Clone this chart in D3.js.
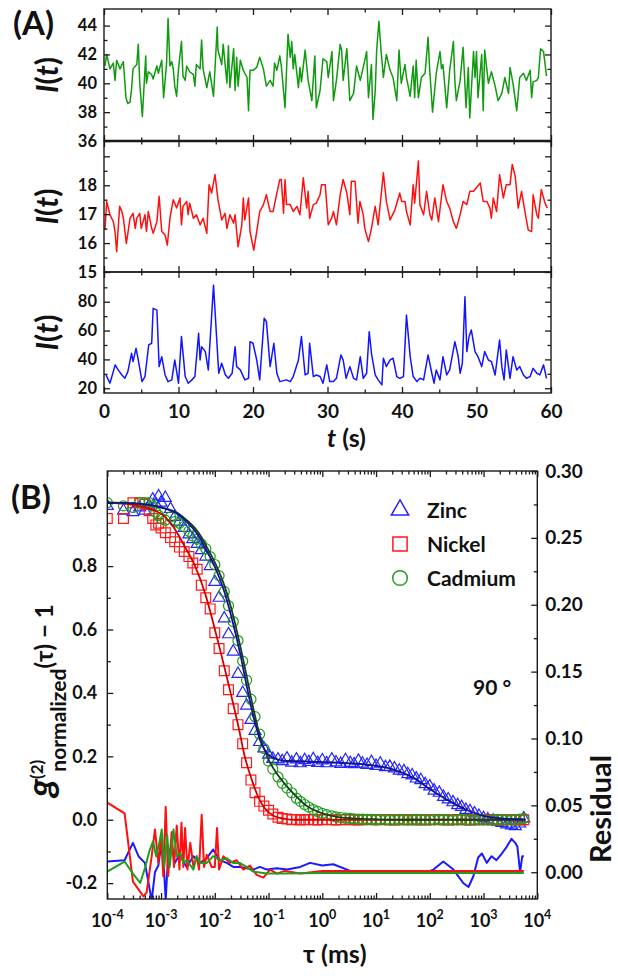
<!DOCTYPE html>
<html>
<head>
<meta charset="utf-8">
<script src="https://cdnjs.cloudflare.com/ajax/libs/d3/7.8.5/d3.min.js"></script>
<style>
  body { margin: 0; background: #fff; }
  svg text { font-family: Lato, "Open Sans", sans-serif; font-weight: bold; fill: #111; }
</style>
</head>
<body>
<div id="chart"></div>
<script>
// Global const
const W = 618, H = 980;
const ink = "#1a1a1a";

// ---------- Panel A data: intensity traces, [t (s), I(t)] ----------
const greenTrace = [
  [0.13,41.2],[0.36,42.0],[0.8,41.0],[1.25,41.4],[1.48,40.2],[1.7,41.6],[2.15,41.0],[2.6,41.5],[2.95,39.0],[3.2,38.6],
  [3.5,38.7],[3.7,39.6],[3.9,41.0],[4.4,41.3],[4.6,42.7],[4.8,40.0],[5.15,37.7],[5.6,41.9],[5.7,40.0],[5.95,40.8],
  [6.4,40.6],[6.6,40.3],[7.1,41.2],[7.3,40.7],[7.75,41.6],[8.0,39.0],[8.4,41.4],[8.6,44.5],[8.85,41.2],[9.1,41.5],
  [9.3,41.0],[9.5,39.8],[9.75,39.1],[10.0,41.0],[10.4,42.9],[10.6,40.5],[10.9,40.2],[11.1,41.2],[11.5,40.8],[12.0,40.6],
  [12.2,39.8],[12.4,41.3],[12.9,41.0],[13.1,43.0],[13.3,41.0],[13.8,39.7],[14.2,40.8],[14.7,39.1],[15.2,43.9],[15.3,42.3],
  [15.8,41.3],[16.0,42.7],[16.5,40.0],[16.7,42.6],[16.9,39.7],[17.4,42.4],[17.6,39.5],[17.8,41.8],[18.0,39.8],[18.3,41.6],
  [18.7,40.9],[19.2,40.4],[19.4,38.1],[19.6,40.9],[20.0,40.9],[20.5,41.1],[20.9,41.8],[21.4,41.0],[21.8,39.8],[22.3,40.2],
  [22.7,39.8],[22.9,41.4],[23.2,40.9],[23.6,41.9],[23.8,41.2],[24.3,38.3],[24.7,43.4],[25.0,41.8],[25.2,42.9],[25.4,41.0],
  [25.6,42.0],[26.1,39.7],[26.3,41.1],[26.5,40.1],[27.0,42.3],[27.4,40.2],[27.9,38.8],[28.3,41.9],[28.5,38.3],[29.0,39.5],
  [29.4,41.7],[29.9,41.5],[30.1,40.4],[30.6,42.2],[30.8,38.8],[31.2,40.2],[31.7,42.7],[31.9,42.3],[32.1,40.2],[32.6,42.4],
  [33.0,38.8],[33.5,39.3],[33.9,41.2],[34.4,40.2],[34.8,41.1],[35.25,42.2],[35.5,39.0],[35.9,41.3],[36.1,37.5],[36.4,39.4],
  [36.6,42.3],[36.9,44.3],[37.2,42.2],[37.5,40.4],[37.9,42.0],[38.4,40.9],[38.8,40.4],[39.3,38.8],[39.6,42.3],[39.9,40.0],
  [40.4,41.3],[40.6,40.4],[41.1,39.1],[41.5,41.2],[41.7,39.0],[41.9,41.6],[42.2,39.0],[42.6,40.4],[43.1,40.7],[43.5,43.2],
  [43.7,41.1],[44.1,38.0],[44.6,40.7],[45.1,42.2],[45.3,41.0],[45.5,41.3],[46.0,38.3],[46.4,40.9],[46.9,42.9],[47.1,40.1],
  [47.3,38.8],[47.8,40.2],[48.2,42.5],[48.6,38.3],[48.9,41.1],[49.1,37.6],[49.6,42.2],[49.8,40.4],[50.0,42.2],[50.2,39.0],
  [50.7,42.0],[50.9,38.1],[51.1,42.3],[51.6,40.0],[52.0,40.8],[52.5,39.8],[52.9,38.8],[53.4,39.3],[53.8,40.4],[54.3,39.3],
  [54.5,41.1],[54.9,40.0],[55.4,38.1],[55.8,40.4],[56.3,40.7],[56.7,40.2],[57.2,40.9],[57.4,39.0],[57.6,40.1],[58.1,40.2],
  [58.3,40.4],[58.6,42.4],[59.0,42.2],[59.4,40.5]
];
const redTrace = [
  [0.13,16.45],[0.36,17.44],[0.8,16.98],[1.25,16.74],[1.48,16.4],[1.7,15.7],[2.1,17.27],[2.4,17.09],[2.6,16.86],[3.0,15.99],
  [3.3,16.51],[3.5,16.86],[3.9,17.03],[4.2,16.51],[4.4,16.86],[4.8,17.03],[5.0,16.51],[5.5,16.98],[5.7,16.4],[5.95,17.09],
  [6.4,16.51],[6.6,16.34],[7.1,16.74],[7.4,17.62],[7.75,16.4],[8.2,16.28],[8.5,15.93],[8.85,16.86],[9.3,17.5],[9.75,17.21],
  [10.2,17.56],[10.4,16.63],[10.6,17.27],[11.1,17.44],[11.3,16.98],[11.5,17.38],[12.0,16.86],[12.4,16.98],[12.9,16.63],[13.3,16.86],
  [13.8,16.34],[14.1,18.02],[14.45,17.73],[14.9,18.37],[15.3,17.5],[15.8,16.8],[16.25,17.03],[16.5,16.51],[16.9,16.98],[17.4,16.69],
  [17.6,16.98],[18.0,15.87],[18.5,16.63],[18.7,17.56],[18.9,16.8],[19.4,17.56],[19.6,16.4],[20.1,15.76],[20.5,16.4],[20.9,17.09],
  [21.4,17.33],[21.8,17.67],[22.3,17.09],[22.7,17.09],[23.2,17.73],[23.6,18.2],[23.8,18.2],[24.1,17.03],[24.3,18.2],[24.5,17.33],
  [25.0,17.33],[25.4,17.09],[25.9,17.27],[26.3,16.98],[26.75,18.26],[27.2,17.21],[27.4,17.79],[27.6,16.86],[28.1,17.33],[28.5,17.38],
  [29.0,17.67],[29.2,18.02],[29.7,18.02],[30.1,16.63],[30.55,16.86],[30.8,17.09],[31.2,16.63],[31.7,17.67],[32.1,18.2],[32.6,17.73],
  [33.0,16.98],[33.2,18.14],[33.7,18.14],[34.1,16.69],[34.35,17.44],[34.8,16.98],[35.0,16.51],[35.5,16.05],[35.9,16.51],[36.4,17.27],
  [36.8,16.63],[37.5,18.43],[37.9,17.44],[38.4,16.8],[39.05,17.15],[39.7,17.73],[39.95,17.44],[40.4,17.44],[40.6,17.09],[41.1,16.63],
  [41.5,18.02],[41.7,17.38],[42.2,18.84],[42.4,17.33],[42.9,16.98],[43.3,17.79],[43.75,16.98],[44.0,16.8],[44.4,17.56],[44.9,16.74],
  [45.5,18.02],[46.0,17.44],[46.4,17.21],[46.9,16.74],[47.3,16.51],[47.8,16.98],[48.2,17.44],[48.7,17.33],[49.1,17.79],[49.6,17.79],
  [49.8,17.85],[50.5,18.08],[50.9,17.44],[51.4,17.44],[51.8,17.21],[52.0,16.86],[52.25,17.56],[52.7,17.09],[53.1,18.37],[53.6,17.56],
  [54.0,18.02],[54.5,18.02],[54.8,18.72],[55.2,18.31],[55.6,17.21],[56.05,17.79],[56.5,17.09],[56.95,16.45],[57.4,16.4],[57.6,17.67],
  [58.1,16.98],[58.3,16.86],[58.7,17.85],[59.2,17.38],[59.5,17.21]
];
const blueTrace = [
  [0.27,29.2],[0.8,23.5],[1.5,36.2],[1.9,32.7],[2.4,29.2],[2.8,26.9],[3.2,31.5],[3.7,44.2],[3.9,38.5],[4.3,47.7],
  [4.6,39.6],[5.1,24.6],[5.5,28.1],[6.0,50.0],[6.4,51.2],[6.6,75.4],[7.1,74.2],[7.4,35.0],[7.75,41.9],[8.2,29.2],
  [8.6,24.6],[9.1,25.8],[9.5,39.6],[10.0,23.5],[10.4,55.8],[10.9,28.1],[11.3,23.5],[11.8,25.8],[12.2,28.1],[12.7,58.1],
  [12.9,39.6],[13.1,48.8],[13.6,45.4],[14.0,32.7],[14.7,91.5],[15.4,30.4],[15.8,37.3],[16.3,29.2],[16.7,26.9],[17.2,30.4],
  [17.6,48.8],[17.8,35.0],[18.3,32.7],[18.9,25.8],[19.4,26.9],[19.6,52.3],[20.0,51.2],[20.5,39.6],[20.9,25.8],[21.5,68.5],
  [21.8,66.2],[22.3,35.0],[22.8,51.2],[23.2,30.4],[23.6,24.6],[24.5,25.8],[25.0,24.6],[25.4,28.1],[26.1,39.6],[26.5,55.8],
  [27.0,29.2],[27.4,30.4],[27.6,51.2],[28.1,28.1],[28.5,29.2],[29.0,28.1],[29.4,23.5],[29.9,36.2],[30.3,24.6],[30.8,24.6],
  [31.2,26.9],[31.8,43.1],[32.1,39.6],[32.5,26.9],[33.0,35.0],[33.5,26.9],[33.9,25.8],[34.4,41.9],[34.8,26.9],[35.25,30.4],
  [35.6,59.2],[35.9,44.2],[36.4,29.2],[36.8,25.8],[37.3,22.3],[37.5,40.8],[37.9,35.0],[38.4,39.6],[38.8,40.8],[39.3,28.1],
  [39.7,26.9],[40.2,28.1],[40.6,70.8],[41.1,41.9],[41.5,28.1],[42.0,24.6],[42.4,26.9],[42.9,25.8],[43.5,43.1],[44.0,30.4],
  [44.3,23.5],[44.6,32.7],[45.1,25.8],[45.5,41.9],[46.0,29.2],[46.4,32.7],[47.1,52.3],[47.55,41.9],[47.8,30.4],[48.1,37.3],
  [48.45,83.5],[48.7,45.4],[49.0,55.8],[49.3,60.4],[49.8,45.4],[50.2,41.9],[50.7,35.0],[51.1,45.4],[51.6,39.6],[52.0,38.5],
  [52.5,29.2],[53.1,53.5],[53.4,35.0],[53.7,25.8],[54.0,46.5],[54.5,26.9],[54.9,41.9],[55.4,32.7],[55.8,35.0],[56.3,29.2],
  [56.7,26.9],[57.2,28.1],[57.6,33.8],[58.1,30.4],[58.5,29.2],[59.0,36.2],[59.4,26.9]
];
const greenTicks = [36, 38, 40, 42, 44];
const redTicks = [15, 16, 17, 18];
const blueTicks = [20, 40, 60, 80];
const timeTicks = [0, 10, 20, 30, 40, 50, 60];

// ---------- Panel B data: normalized g2(tau) - 1 ----------
const tauGrid = [
  1e-4, 2e-4, 3e-4, 4e-4, 5e-4, 6e-4, 7e-4, 8e-4, 9e-4,
  1e-3, 1.2e-3, 1.5e-3, 1.8e-3, 2.2e-3, 2.7e-3, 3.3e-3, 3.9e-3, 4.7e-3, 5.6e-3, 6.8e-3, 8.2e-3,
  1e-2, 1.2e-2, 1.5e-2, 1.8e-2, 2.2e-2, 2.7e-2, 3.3e-2, 3.9e-2, 4.7e-2, 5.6e-2, 6.8e-2, 8.2e-2,
  0.1, 0.12, 0.15, 0.18, 0.22, 0.27, 0.33, 0.39, 0.47, 0.56, 0.68, 0.82,
  1, 1.2, 1.5, 1.8, 2.2, 2.7, 3.3, 3.9, 4.7, 5.6, 6.8, 8.2,
  10, 12, 15, 18, 22, 27, 33, 39, 47, 56, 68, 82,
  100, 120, 150, 180, 220, 270, 330, 390, 470, 560, 680, 820,
  1000, 1200, 1500, 1800, 2200, 2700, 3300, 3900, 4700, 5600
];
const zincG2 = [
  0.99, 0.975, 0.97, 0.985, 0.975, 0.99, 1.01, 0.995, 1.02,
  1.0, 1.015, 0.98, 0.955, 0.94, 0.92, 0.9, 0.885, 0.87, 0.85, 0.83, 0.8,
  0.75, 0.70, 0.635, 0.585, 0.53, 0.46, 0.40, 0.36, 0.315, 0.28, 0.245, 0.225,
  0.205, 0.192, 0.19, 0.185, 0.193, 0.18, 0.19, 0.178, 0.188, 0.182, 0.191, 0.179,
  0.187, 0.178, 0.19, 0.181, 0.176, 0.188, 0.179, 0.175, 0.186, 0.177, 0.173, 0.182,
  0.17, 0.177, 0.166, 0.167, 0.162, 0.155, 0.153, 0.144, 0.14, 0.13, 0.125, 0.112,
  0.105, 0.092, 0.085, 0.072, 0.064, 0.055, 0.046, 0.04, 0.031, 0.027, 0.02, 0.012,
  0.005, 0.001, -0.003, -0.006, -0.01, -0.015, -0.018, -0.02, -0.012, 0.004
];
const nickelG2 = [
  0.95, 0.95, 1.0, 1.0, 0.995, 0.975, 0.95, 0.93, 0.935,
  0.92, 0.905, 0.89, 0.877, 0.86, 0.846, 0.83, 0.81, 0.79, 0.74, 0.70, 0.665,
  0.59, 0.54, 0.47, 0.41, 0.35, 0.30, 0.24, 0.18, 0.125, 0.085, 0.058, 0.043,
  0.03, 0.018, 0.008, 0.004, 0.002, 0.0, 0.001, -0.001, 0.0, 0.001, 0.0, -0.001,
  0.0, 0.001, 0.0, -0.001, 0.0, 0.001, 0.0, 0.0, -0.001, 0.0, 0.001, 0.0,
  0.0, 0.0, 0.001, 0.0, -0.001, 0.0, 0.0, 0.001, 0.0, 0.0, -0.001, 0.0,
  0.0, 0.001, 0.0, 0.0, -0.001, 0.0, 0.001, 0.0, 0.0, -0.001, 0.0, 0.0,
  0.0, 0.001, 0.0, -0.001, 0.0, 0.0, 0.001, 0.0, -0.001, 0.0
];
const cadmiumG2 = [
  1.0, 0.99, 0.985, 1.0, 1.0, 1.0, 0.99, 0.97, 0.96,
  0.95, 0.945, 0.955, 0.94, 0.935, 0.925, 0.91, 0.895, 0.885, 0.87, 0.855, 0.83,
  0.805, 0.77, 0.72, 0.675, 0.625, 0.565, 0.50, 0.44, 0.38, 0.325, 0.27, 0.225,
  0.185, 0.16, 0.135, 0.115, 0.10, 0.085, 0.068, 0.058, 0.048, 0.04, 0.032, 0.026,
  0.02, 0.016, 0.012, 0.009, 0.007, 0.005, 0.004, 0.003, 0.002, 0.002, 0.001, 0.001,
  0.0, 0.001, 0.0, -0.001, 0.0, 0.001, 0.0, -0.001, 0.0, 0.001, 0.0, 0.0,
  -0.001, 0.0, 0.001, 0.0, 0.0, -0.001, 0.0, 0.001, 0.0, -0.001, 0.0, 0.001,
  0.0, -0.001, 0.0, 0.001, 0.0, 0.0, -0.001, 0.0, 0.002, 0.004
];
// fitted curves, [tau (ms), value]
const zincFit = [[1e-4,1.0],[3e-4,0.998],[1e-3,0.985],[2e-3,0.965],[3e-3,0.94],[5e-3,0.895],[7e-3,0.85],[1e-2,0.798],
  [1.5e-2,0.72],[2e-2,0.645],[3e-2,0.52],[4e-2,0.415],[5e-2,0.34],[7e-2,0.25],[0.1,0.205],[0.15,0.19],[0.2,0.186],
  [0.3,0.185],[0.5,0.184],[1,0.182],[2,0.18],[5,0.176],[10,0.17],[20,0.16],[50,0.132],[100,0.097],[200,0.065],
  [500,0.03],[1000,0.012],[2000,0.004],[6000,0.001]];
const nickelFit = [[1e-4,1.0],[3e-4,0.993],[1e-3,0.965],[1.6e-3,0.93],[2.8e-3,0.86],[4.3e-3,0.8],[6.6e-3,0.714],
  [8.7e-3,0.641],[1.17e-2,0.557],[1.55e-2,0.473],[2.04e-2,0.389],[2.75e-2,0.294],[3.6e-2,0.2],[4.9e-2,0.125],
  [6.5e-2,0.07],[8.5e-2,0.036],[0.126,0.012],[0.2,0.003],[0.32,0],[1,0],[100,0],[6000,0]];
const cadmiumFit = [[1e-4,1.0],[3e-4,0.998],[1e-3,0.985],[2e-3,0.968],[3e-3,0.945],[5e-3,0.905],[7e-3,0.862],
  [1e-2,0.812],[1.5e-2,0.74],[2e-2,0.67],[3e-2,0.545],[4e-2,0.445],[5e-2,0.365],[7e-2,0.26],[0.1,0.19],[0.15,0.14],
  [0.2,0.113],[0.3,0.08],[0.5,0.045],[1,0.02],[2,0.008],[5,0.003],[10,0.001],[20,0],[100,0],[1000,0],[6000,0]];
// fit residuals (right axis), [tau (ms), residual]
const zincResid = [[1e-4,0.008],[2.1e-4,0.009],[3e-4,0.022],[3.8e-4,0.012],[5e-4,0.007],[6.7e-4,-0.021],[7.7e-4,0.0],
  [8.9e-4,0.005],[1e-3,0.020],[1.1e-3,0.012],[1.22e-3,-0.021],[1.35e-3,0.012],[1.58e-3,0.020],[1.8e-3,0.007],
  [2.2e-3,0.013],[3e-3,0.004],[4e-3,0.012],[5.3e-3,0.007],[7.1e-3,0.0105],[9.3e-3,0.017],[1.25e-2,0.009],
  [1.67e-2,0.007],[2.2e-2,0.004],[2.9e-2,0.004],[3.9e-2,0.003],[5.2e-2,0.002],[6.9e-2,0.004],[9.3e-2,0.002],
  [0.142,0.003],[0.22,0.002],[0.39,0.004],[0.59,0.007],[1.0,0.005],[1.6,0.006],[3.3,0.001],[10,0.0],[30,0.0],
  [87,0.0],[117,0.002],[178,0.008],[275,0.002],[417,-0.008],[525,-0.011],[646,-0.003],[794,0.011],[933,0.014],
  [1148,0.007],[1413,0.012],[1738,0.009],[2188,0.014],[2692,0.019],[3311,0.025],[3890,0.022],[4266,0.019],
  [4786,0.0],[5248,0.012],[5623,0.012]];
const nickelResid = [[1e-4,0.052],[2.1e-4,0.044],[3e-4,-0.007],[4.7e-4,-0.018],[5.4e-4,-0.015],[6.7e-4,0.012],
  [7.7e-4,0.032],[8.9e-4,0.007],[1e-3,0.027],[1.1e-3,-0.003],[1.22e-3,0.049],[1.35e-3,-0.003],[1.58e-3,0.030],
  [1.74e-3,0.004],[1.96e-3,0.035],[2.2e-3,0.002],[2.4e-3,0.037],[2.6e-3,0.004],[2.8e-3,0.033],[3.1e-3,0.002],
  [3.5e-3,0.022],[4e-3,0.004],[4.6e-3,0.012],[5.1e-3,0.002],[5.7e-3,0.043],[6.3e-3,0.004],[7.1e-3,0.013],
  [8.7e-3,0.004],[1e-2,0.004],[1.1e-2,0.033],[1.2e-2,0.002],[1.44e-2,0.012],[1.9e-2,0.007],[2.55e-2,0.009],
  [3.4e-2,0.002],[4.5e-2,0.005],[6e-2,-0.002],[8e-2,-0.004],[0.107,0.002],[0.142,-0.001],[0.2,0.001],
  [0.39,-0.001],[1,0.001],[10,0.001],[100,0.001],[1000,0.001],[5623,0.001]];
const cadmiumResid = [[1e-4,0.0005],[2.1e-4,0.008],[3e-4,-0.001],[4.1e-4,-0.008],[5e-4,0.003],[6.2e-4,0.017],
  [7.1e-4,0.023],[8.1e-4,0.012],[9.3e-4,0.022],[1.03e-3,0.032],[1.15e-3,0.004],[1.3e-3,0.028],[1.45e-3,0.004],
  [1.7e-3,0.032],[1.96e-3,0.012],[2.3e-3,0.014],[2.6e-3,0.007],[3e-3,0.009],[4e-3,0.002],[4.6e-3,0.012],
  [5.3e-3,0.007],[7.1e-3,0.007],[9.3e-3,0.012],[1.25e-2,0.009],[1.67e-2,0.0105],[2.2e-2,0.007],[2.9e-2,0.007],
  [3.9e-2,0.004],[5.2e-2,0.0005],[9.3e-2,-0.001],[0.2,-0.001],[1,-0.0005],[10,-0.0005],[100,-0.0005],
  [1000,-0.0005],[5623,-0.0005]];
const seriesNames = ["Zinc", "Nickel", "Cadmium"];
const gTicks = [-0.2, 0.0, 0.2, 0.4, 0.6, 0.8, 1.0];
const residTicks = [0.00, 0.05, 0.10, 0.15, 0.20, 0.25, 0.30];
const tauTicks = [1e-4, 1e-3, 1e-2, 1e-1, 1, 10, 100, 1e3, 1e4];

// Create SVG
const svg = d3.select("#chart").append("svg").attr("width", W).attr("height", H);

function styleAxis(g, fontSize) {
  g.select(".domain").remove();
  g.attr("color", ink);
  g.selectAll("line").attr("stroke-width", 1.3);
  g.selectAll("text").style("font-size", fontSize + "px").style("fill", "#111");
}

// ---------------- Panel A ----------------
const xA = d3.scaleLinear().domain([0, 60]).range([104, 551]);
const strips = [
  {data: greenTrace, color: "#109a10", y0: 141, y1: 9, domain: [36, 45.15],
   major: greenTicks, labels: greenTicks, minor: [37, 39, 41, 43]},
  {data: redTrace, color: "#ff1010", y0: 272, y1: 141, domain: [15, 19.53],
   major: [15, 16, 17, 18, 19], labels: redTicks, minor: [15.5, 16.5, 17.5, 18.5]},
  {data: blueTrace, color: "#1414ff", y0: 393, y1: 272, domain: [16.7, 100.6],
   major: blueTicks, labels: blueTicks, minor: [30, 50, 70, 90]}
];
const minorTime = [5, 15, 25, 35, 45, 55];

function draw_traces() {
  strips.forEach(s => {
    const y = d3.scaleLinear().domain(s.domain).range([s.y0, s.y1]);

    svg.append("path").datum(s.data)
      .attr("fill", "none").attr("stroke", s.color).attr("stroke-width", 1.5)
      .attr("stroke-linejoin", "round")
      .attr("d", d3.line().x(d => xA(d[0])).y(d => y(d[1])));

    // left / right ticks (inward)
    svg.append("g").attr("transform", `translate(${xA(0)},0)`)
      .call(d3.axisLeft(y).tickValues(s.major).tickSize(-6).tickPadding(7)
        .tickFormat(v => s.labels.includes(v) ? v : ""))
      .call(g => styleAxis(g, 16.5));
    svg.append("g").attr("transform", `translate(${xA(0)},0)`)
      .call(d3.axisLeft(y).tickValues(s.minor).tickSize(-3.5).tickFormat(""))
      .call(g => styleAxis(g, 16));
    svg.append("g").attr("transform", `translate(${xA(60)},0)`)
      .call(d3.axisRight(y).tickValues(s.major).tickSize(-6).tickFormat(""))
      .call(g => styleAxis(g, 16));
    svg.append("g").attr("transform", `translate(${xA(60)},0)`)
      .call(d3.axisRight(y).tickValues(s.minor).tickSize(-3.5).tickFormat(""))
      .call(g => styleAxis(g, 16));

    // top / bottom time ticks (inward)
    svg.append("g").attr("transform", `translate(0,${s.y1})`)
      .call(d3.axisBottom(xA).tickValues(timeTicks).tickSize(6).tickFormat(""))
      .call(g => styleAxis(g, 16));
    svg.append("g").attr("transform", `translate(0,${s.y1})`)
      .call(d3.axisBottom(xA).tickValues(minorTime).tickSize(3.5).tickFormat(""))
      .call(g => styleAxis(g, 16));
    svg.append("g").attr("transform", `translate(0,${s.y0})`)
      .call(d3.axisTop(xA).tickValues(timeTicks).tickSize(6).tickFormat(""))
      .call(g => styleAxis(g, 16));
    svg.append("g").attr("transform", `translate(0,${s.y0})`)
      .call(d3.axisTop(xA).tickValues(minorTime).tickSize(3.5).tickFormat(""))
      .call(g => styleAxis(g, 16));

    svg.append("rect")
      .attr("x", xA(0)).attr("y", s.y1)
      .attr("width", xA(60) - xA(0)).attr("height", s.y0 - s.y1)
      .attr("fill", "none").attr("stroke", ink).attr("stroke-width", 1.4);

    // I(t) label
    const cy = (s.y0 + s.y1) / 2;
    const lab = svg.append("text")
      .attr("transform", `translate(58,${cy}) rotate(-90)`)
      .attr("text-anchor", "middle").style("font-size", "30px");
    lab.append("tspan").style("font-style", "italic").text("I");
    lab.append("tspan").text("(");
    lab.append("tspan").style("font-style", "italic").text("t");
    lab.append("tspan").text(")");
  });

  // thick separator between green and red traces
  svg.append("line").attr("x1", xA(0)).attr("x2", xA(60)).attr("y1", 141).attr("y2", 141)
    .attr("stroke", ink).attr("stroke-width", 2.6);

  // time labels
  svg.append("g").attr("transform", "translate(0,393)")
    .call(d3.axisBottom(xA).tickValues(timeTicks).tickSize(0).tickPadding(12))
    .call(g => styleAxis(g, 19));

  const tl = svg.append("text").attr("x", 327).attr("y", 447).style("font-size", "25px");
  tl.append("tspan").style("font-style", "italic").text("t");
  tl.append("tspan").text(" (s)");

  svg.append("text").attr("x", 13).attr("y", 35).style("font-size", "33px").text("(A)");
}

// ---------------- Panel B ----------------
const xB = d3.scaleLog().domain([1e-4, 1e4]).range([107.3, 537.3]);
const yB = d3.scaleLinear().domain([-0.25, 1.1]).range([899, 471]);
const yR = d3.scaleLinear().domain([-0.02, 0.30]).range([899, 471]);
const minorTau = d3.range(-4, 4).flatMap(e => d3.range(2, 10).map(m => m * Math.pow(10, e)));

function draw_correlation() {
  svg.append("clipPath").attr("id", "clipB").append("rect")
    .attr("x", 107.3).attr("y", 471).attr("width", 430).attr("height", 428);

  const plot = svg.append("g").attr("clip-path", "url(#clipB)");

  const markers = [
    {vals: zincG2, color: "#2424ff", type: d3.symbolTriangle, size: 62},
    {vals: nickelG2, color: "#ff1a1a", type: d3.symbolSquare, size: 96},
    {vals: cadmiumG2, color: "#1f9e1f", type: d3.symbolCircle, size: 80}
  ];
  markers.forEach(m => {
    plot.append("g").selectAll("path")
      .data(tauGrid.map((t, i) => [t, m.vals[i]]))
      .join("path")
        .attr("transform", d => `translate(${xB(d[0])},${yB(d[1])})`)
        .attr("d", d3.symbol().type(m.type).size(m.size))
        .attr("fill", "none").attr("stroke", m.color).attr("stroke-width", 1.2);
  });

  const fitLine = d3.line().x(d => xB(d[0])).y(d => yB(d[1])).curve(d3.curveMonotoneX);
  [[nickelFit, "#d40000"], [cadmiumFit, "#17401c"], [zincFit, "#14148a"]].forEach(([data, color]) => {
    plot.append("path").datum(data).attr("fill", "none")
      .attr("stroke", color).attr("stroke-width", 1.8).attr("d", fitLine);
  });

  const resLine = d3.line().x(d => xB(d[0])).y(d => yR(d[1]));
  [[zincResid, "#1a1aff"], [nickelResid, "#ff1010"], [cadmiumResid, "#1f9e1f"]].forEach(([data, color]) => {
    plot.append("path").datum(data).attr("fill", "none")
      .attr("stroke", color).attr("stroke-width", 2).attr("stroke-linejoin", "round").attr("d", resLine);
  });

  // box
  svg.append("rect").attr("x", 107.3).attr("y", 471).attr("width", 430).attr("height", 428)
    .attr("fill", "none").attr("stroke", ink).attr("stroke-width", 1.4);

  // x ticks top & bottom
  svg.append("g").attr("transform", "translate(0,899)")
    .call(d3.axisBottom(xB).tickValues(tauTicks).tickSize(-6).tickFormat(""))
    .call(g => styleAxis(g, 17));
  svg.append("g").attr("transform", "translate(0,899)")
    .call(d3.axisBottom(xB).tickValues(minorTau).tickSize(-3.5).tickFormat(""))
    .call(g => styleAxis(g, 17));
  svg.append("g").attr("transform", "translate(0,471)")
    .call(d3.axisTop(xB).tickValues(tauTicks).tickSize(-6).tickFormat(""))
    .call(g => styleAxis(g, 17));
  svg.append("g").attr("transform", "translate(0,471)")
    .call(d3.axisTop(xB).tickValues(minorTau).tickSize(-3.5).tickFormat(""))
    .call(g => styleAxis(g, 17));

  // power-of-ten labels
  const tlab = svg.append("g").selectAll("text").data(tauTicks).join("text")
    .attr("x", d => xB(d)).attr("y", 927).attr("text-anchor", "middle").style("font-size", "18px");
  tlab.append("tspan").text("10");
  tlab.append("tspan").attr("dy", -8).style("font-size", "12.5px")
    .text(d => String(Math.round(Math.log10(d))));

  // left axis
  svg.append("g").attr("transform", "translate(107.3,0)")
    .call(d3.axisLeft(yB).tickValues(gTicks).tickSize(-6).tickPadding(10).tickFormat(v => v.toFixed(1)))
    .call(g => styleAxis(g, 18));
  svg.append("g").attr("transform", "translate(107.3,0)")
    .call(d3.axisLeft(yB).tickValues([-0.1, 0.1, 0.3, 0.5, 0.7, 0.9]).tickSize(-3.5).tickFormat(""))
    .call(g => styleAxis(g, 17));

  // right axis (residual)
  svg.append("g").attr("transform", "translate(537.3,0)")
    .call(d3.axisRight(yR).tickValues(residTicks).tickSize(-6).tickPadding(8).tickFormat(v => v.toFixed(2)))
    .call(g => styleAxis(g, 19));
  svg.append("g").attr("transform", "translate(537.3,0)")
    .call(d3.axisRight(yR).tickValues([0.025, 0.075, 0.125, 0.175, 0.225, 0.275]).tickSize(-3.5).tickFormat(""))
    .call(g => styleAxis(g, 17));

  // legend
  const legend = svg.append("g");
  markers.forEach((m, i) => {
    const ly = 510 + i * 34;
    legend.append("path")
      .attr("transform", `translate(400,${ly})`)
      .attr("d", d3.symbol().type(m.type).size(m.size * 2.1))
      .attr("fill", "none").attr("stroke", m.color).attr("stroke-width", 1.5);
    legend.append("text").attr("x", 427).attr("y", ly + 7.5).style("font-size", "21px").text(seriesNames[i]);
  });

  svg.append("text").attr("x", 473).attr("y", 695).style("font-size", "21px").text("90 °");

  // axis titles
  const tt = svg.append("text").attr("x", 303).attr("y", 963).style("font-size", "25px");
  tt.append("tspan").text("τ (ms)");

  const gl = svg.append("text").attr("transform", "translate(53,797) rotate(-90)");
  gl.append("tspan").style("font-size", "36px").style("font-style", "italic").text("g");
  gl.append("tspan").style("font-size", "17px").attr("dy", -10).text("(2)");
  gl.append("tspan").style("font-size", "21px").attr("dx", -12).attr("dy", 23).text("normalized");
  gl.append("tspan").style("font-size", "24px").attr("dy", -13).text("(τ) − 1");

  svg.append("text").attr("transform", "translate(611,809) rotate(-90)")
    .attr("text-anchor", "middle").style("font-size", "29px").text("Residual");

  svg.append("text").attr("x", 11).attr("y", 509).style("font-size", "33px").text("(B)");
}

draw_traces();
draw_correlation();
</script>
</body>
</html>
